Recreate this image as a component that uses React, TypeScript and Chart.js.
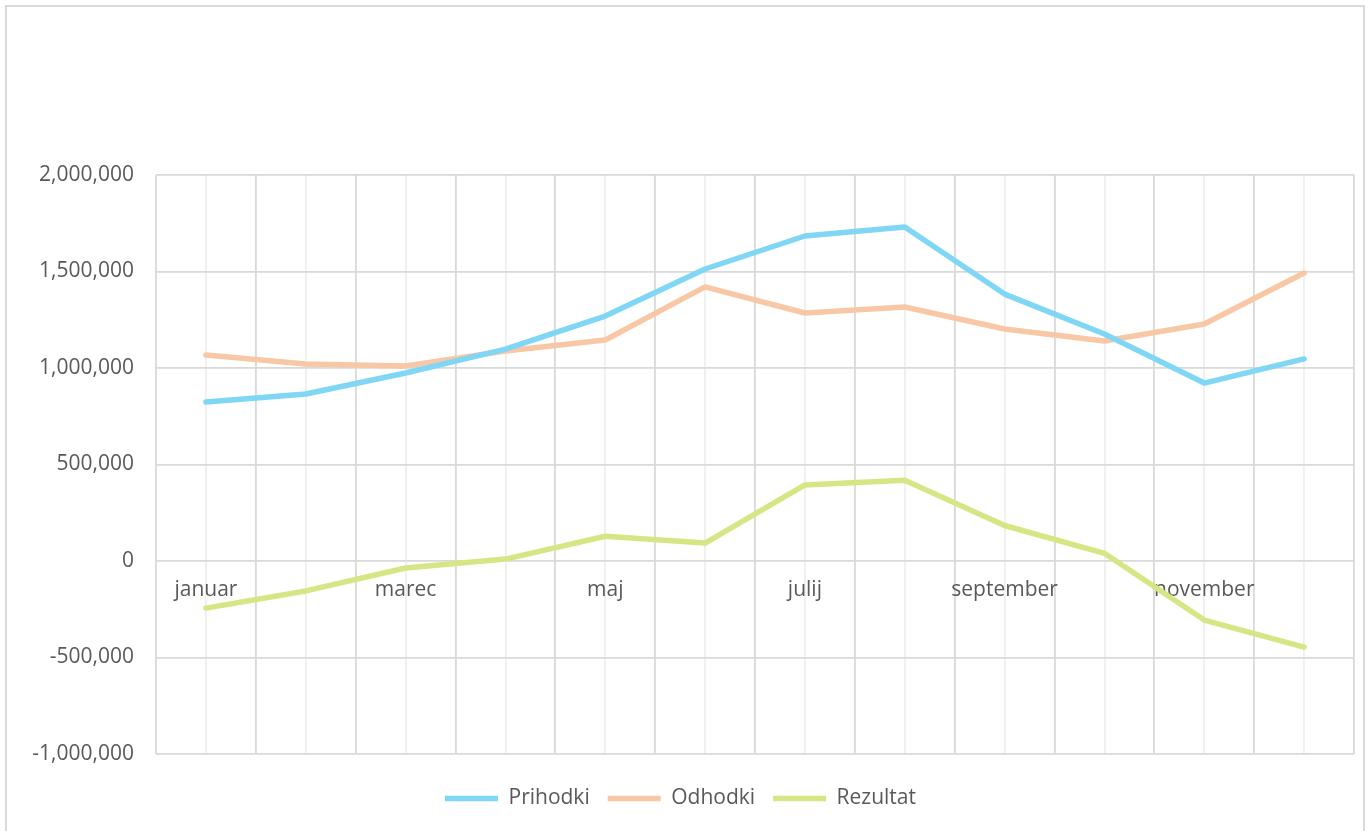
import React, { useEffect, useRef } from 'react';
import { Chart, registerables } from 'chart.js';

Chart.register(...registerables);

const months = ['januar', 'februar', 'marec', 'april', 'maj', 'junij', 'julij', 'avgust', 'september', 'oktober', 'november', 'december'];
const prihodki = [824000, 865000, 974000, 1098000, 1269000, 1513000, 1684000, 1731000, 1383000, 1176000, 922000, 1047000];
const odhodki = [1067000, 1021000, 1010000, 1088000, 1145000, 1420000, 1285000, 1316000, 1202000, 1140000, 1228000, 1492000];
const rezultat = [-244000, -155000, -36000, 10000, 128000, 93000, 394000, 418000, 184000, 40000, -306000, -446000];
const yTicksMin = -1000000;
const yTicksMax = 2000000;
const yStep = 500000;

const FONT = { family: '"Open Sans", sans-serif', size: 21 };
const TEXT = '#595959';

export default function App() {
  const ref = useRef<HTMLCanvasElement | null>(null);

  useEffect(() => {
    if (!ref.current) return;
    const mk = (label: string, data: number[], color: string) => ({
      label,
      data,
      borderColor: color,
      backgroundColor: color,
      borderWidth: 5.5,
      borderCapStyle: 'round' as const,
      borderJoinStyle: 'round' as const,
      pointRadius: 0,
      pointHoverRadius: 0,
      tension: 0,
      fill: false,
    });
    const chart = new Chart(ref.current, {
      type: 'line',
      data: {
        labels: months,
        datasets: [
          mk('Prihodki', prihodki, '#7fd6f5'),
          mk('Odhodki', odhodki, '#f8c8a6'),
          mk('Rezultat', rezultat, '#d6e685'),
        ],
      },
      options: {
        animation: false,
        responsive: true,
        maintainAspectRatio: false,
        layout: { padding: { top: 168, right: 9, bottom: 12, left: 0 } },
        scales: {
          x2: {
            type: 'category',
            labels: months,
            offset: true,
            position: { y: 0 } as any,
            grid: { offset: false, color: '#efefef', lineWidth: 1.8, drawTicks: false },
            ticks: { display: false },
            border: { display: false },
          },
          x: {
            type: 'category',
            offset: true,
            position: { y: 0 } as any,
            grid: { offset: true, color: '#d9d9d9', lineWidth: 1.8, drawTicks: false },
            border: { display: false },
            ticks: {
              autoSkip: false,
              maxRotation: 0,
              padding: 16,
              color: TEXT,
              font: FONT,
              callback: (_v: any, i: number) => (i % 2 === 0 ? months[i] : ''),
            },
          },
          y: {
            min: yTicksMin,
            max: yTicksMax,
            grid: { color: '#d9d9d9', lineWidth: 1.8, drawTicks: false },
            border: { display: false },
            ticks: {
              stepSize: yStep,
              padding: 22,
              color: TEXT,
              font: FONT,
              callback: (v: any) => Number(v).toLocaleString('en-US'),
            },
            afterFit: (s: any) => {
              s.width = 149;
            },
          },
        },
        plugins: {
          tooltip: { enabled: false },
          legend: {
            position: 'bottom',
            title: {
              display: true,
              text: ' ',
              font: { size: 16, lineHeight: 1 },
              padding: 0,
            },
            labels: {
              usePointStyle: true,
              pointStyle: 'line',
              pointStyleWidth: 53,
              color: TEXT,
              font: FONT,
              padding: 18,
            },
          },
        },
      },
    });
    return () => chart.destroy();
  }, []);

  return (
    <div
      style={{
        position: 'absolute',
        left: 5,
        top: 5,
        width: 1360,
        height: 826,
        boxSizing: 'border-box',
        borderTop: '2px solid #d9d9d9',
        borderLeft: '2px solid #d9d9d9',
        borderRight: '2px solid #d9d9d9',
        background: '#fff',
      }}
    >
      <div style={{ position: 'relative', width: '100%', height: '100%' }}>
        <canvas ref={ref} />
      </div>
    </div>
  );
}
